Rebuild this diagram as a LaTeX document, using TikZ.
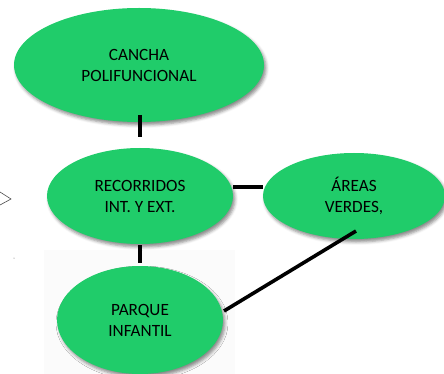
\documentclass[tikz,border=0pt]{standalone}
\usepackage{fontspec}
\setmainfont{Carlito}
\usetikzlibrary{shapes.geometric,shadows.blur}
\definecolor{leaf}{HTML}{20CC6A}
\tikzset{
  blob/.style={ellipse, fill=leaf, inner sep=0pt, align=center,
    font=\fontsize{17.2}{21}\selectfont, text=black,
    blur shadow={shadow xshift=2pt, shadow yshift=-3pt, shadow blur radius=3pt, shadow opacity=45}},
  link/.style={line width=3.6pt, black}
}
\begin{document}
\begin{tikzpicture}[x=1pt,y=-1pt]
\useasboundingbox (0,0) rectangle (444,374);
\fill[black!1.5] (44,250) rectangle (235,374);
\node[blob, minimum width=250, minimum height=114] (cancha) at (139,65) {CANCHA\\POLIFUNCIONAL};
\node[blob, minimum width=186, minimum height=96] (rec) at (140,196) {RECORRIDOS\\INT. Y EXT.};
\node[blob, minimum width=182, minimum height=86] (areas) at (354,196) {ÁREAS\\VERDES,};
\node[blob, minimum width=166, minimum height=108] (parque) at (140,320) {PARQUE\\INFANTIL};
\coordinate (c1) at (140,115);
\coordinate (c2) at (140,137);
\coordinate (r1) at (140,245);
\coordinate (r2) at (140,263);
\coordinate (h1) at (233,187);
\coordinate (h2) at (263,187);
\coordinate (d1) at (356,231);
\coordinate (d2) at (224,311);
\draw[link] (c1) -- (c2);
\draw[link] (r1) -- (r2);
\draw[link] (h1) -- (h2);
\draw[link] (d1) -- (d2);
\coordinate (g1) at (0,192);
\coordinate (g2) at (11,199);
\coordinate (g3) at (0,205);
\draw[black!70, line width=0.6pt] (g1) -- (g2) -- (g3);
\fill[black!60] (14,258) circle (0.5);
\end{tikzpicture}
\end{document}
